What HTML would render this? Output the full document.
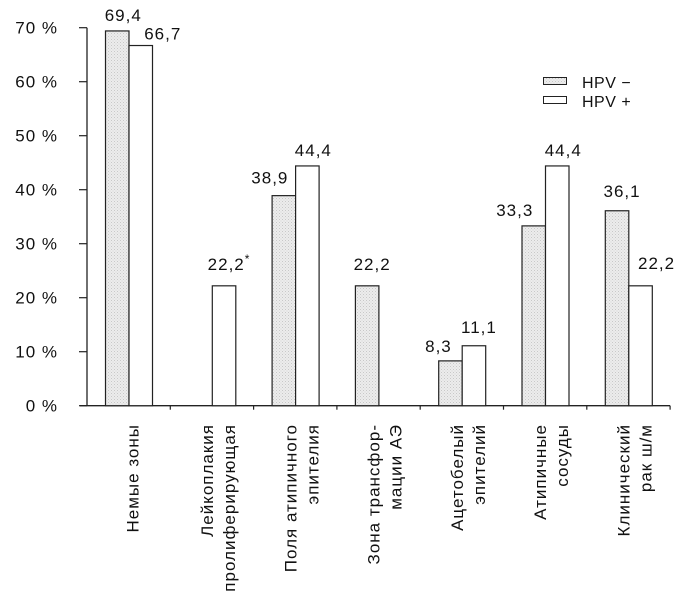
<!DOCTYPE html>
<html><head><meta charset="utf-8"><style>
html,body{margin:0;padding:0;background:#fff;}
svg{display:block;font-family:"Liberation Sans","DejaVu Sans",sans-serif;}
</style></head><body>
<svg id="chart" width="698" height="614" viewBox="0 0 698 614">
<defs>
<pattern id="stip" width="3" height="3" patternUnits="userSpaceOnUse">
<rect width="3" height="3" fill="#ececec"/>
<rect x="0" y="0" width="1" height="1" fill="#c8c8c8"/>
<rect x="1.5" y="1.5" width="1" height="1" fill="#d4d4d4"/>
</pattern>
</defs>
<g id="axes"></g>
<g id="bars"></g>
<g id="labels"></g>
<g>
<rect x="543.5" y="77.5" width="23" height="7" fill="url(#stip)" stroke="#222"/>
<text x="582" y="88" font-size="16" letter-spacing="0.5" fill="#111">HPV −</text>
<rect x="543.5" y="96.5" width="23" height="7" fill="#fff" stroke="#222"/>
<text x="582" y="107" font-size="16" letter-spacing="0.5" fill="#111">HPV +</text>
</g>
</svg>
<script>
const categories = [["Немые зоны"],["Лейкоплакия","пролиферирующая"],["Поля атипичного","эпителия"],["Зона трансфор-","мации АЭ"],["Ацетобелый","эпителий"],["Атипичные","сосуды"],["Клинический","рак ш/м"]];
const hpvNeg = [69.4, 0, 38.9, 22.2, 8.3, 33.3, 36.1];
const hpvPos = [66.7, 22.2, 44.4, 0, 11.1, 44.4, 22.2];
const negLabels = ["69,4", "", "38,9", "22,2", "8,3", "33,3", "36,1"];
const posLabels = ["66,7", "22,2*", "44,4", "", "11,1", "44,4", "22,2"];
const yTicks = [0,10,20,30,40,50,60,70];
const yTickLabels = ["0 %","10 %","20 %","30 %","40 %","50 %","60 %","70 %"];
// layout offsets for value labels (dx from bar centre, dy from bar top)
const negOff = [[6,-10],[0,0],[-14,-12],[5,-16],[-12,-9],[-19,-10],[5,-14]];
const posOff = [[22,-6],[5,-16],[6,-10],[0,0],[5,-13],[6,-10],[16,-17]];

const NS="http://www.w3.org/2000/svg";
const x0=87, gw=83.3, y0=405.7, ppu=5.4, bw=23.5, boff=18.5;
const yS=v=>y0-v*ppu;
const gX=i=>x0+i*gw;
function mk(tag,attrs,parent){const e=document.createElementNS(NS,tag);for(const k in attrs)e.setAttribute(k,attrs[k]);parent.appendChild(e);return e;}
const axes=document.getElementById('axes'),bars=document.getElementById('bars'),labels=document.getElementById('labels');

let l=mk('line',{x1:x0,y1:yS(70),x2:x0,y2:y0,stroke:'#222','stroke-width':1.3},axes);


l=mk('line',{x1:80,y1:y0,x2:gX(7),y2:y0,stroke:'#222','stroke-width':1.3},axes);


yTicks.forEach((v,i)=>{
  const t=mk('line',{x1:79,y1:yS(v),x2:x0,y2:yS(v),stroke:'#222','stroke-width':1.2},axes);
  
  
  const tx=mk('text',{x:58,y:yS(v)+6,'text-anchor':'end','font-size':17,'letter-spacing':1,fill:'#111'},axes);
  tx.textContent=yTickLabels[i];
  
  
});
for(let i=1;i<=7;i++){
  const t=mk('line',{x1:gX(i),y1:y0,x2:gX(i),y2:y0+4,stroke:'#222','stroke-width':1.2},axes);
  
  
}
categories.forEach((cat,i)=>{
  const bx=gX(i)+boff;
  if(hpvNeg[i]>0){
    const r=mk('rect',{x:bx,y:yS(hpvNeg[i]),width:bw,height:hpvNeg[i]*ppu,fill:'url(#stip)',stroke:'#222','stroke-width':1.2},bars);
    
    
  }
  if(hpvPos[i]>0){
    const r=mk('rect',{x:bx+bw,y:yS(hpvPos[i]),width:bw,height:hpvPos[i]*ppu,fill:'#fff',stroke:'#222','stroke-width':1.2},bars);
    
    
  }
  if(negLabels[i]){
    const t=mk('text',{x:bx+bw/2+negOff[i][0],y:yS(hpvNeg[i])+negOff[i][1],'text-anchor':'middle','font-size':17,'letter-spacing':1,fill:'#111'},labels);
    t.textContent=negLabels[i];
    
    
  }
  if(posLabels[i]){
    const t=mk('text',{x:bx+bw*1.5+posOff[i][0],y:yS(hpvPos[i])+posOff[i][1],'text-anchor':'middle','font-size':17,'letter-spacing':1,fill:'#111'},labels);
    const s=posLabels[i];
    if(s.endsWith('*')){
      t.textContent=s.slice(0,-1);
      const sup=mk('tspan',{dy:-7,'font-size':12},t);sup.textContent='*';
    } else t.textContent=s;
    
    
  }
  const cx=gX(i)+gw/2;
  const offs=cat.length===1?[4]:[-5,17];
  cat.forEach((line,j)=>{
    const bxl=cx+offs[j]+6;
    const t=mk('text',{transform:`translate(${bxl},424) rotate(-90)`,'text-anchor':'end','font-size':17,'letter-spacing':1,fill:'#111'},labels);
    t.textContent=line;
    
    
  });
});
</script>
</body></html>
